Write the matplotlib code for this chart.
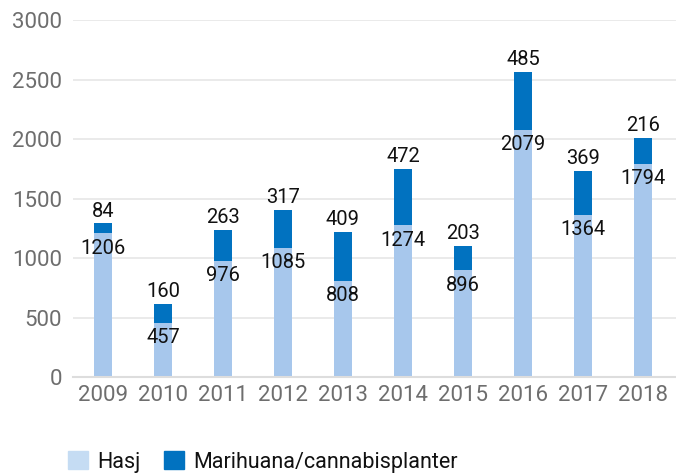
import matplotlib
matplotlib.use("Agg")
import matplotlib.pyplot as plt
from matplotlib.patches import Patch

years = ["2009", "2010", "2011", "2012", "2013", "2014", "2015", "2016", "2017", "2018"]
hasj = [1206, 457, 976, 1085, 808, 1274, 896, 2079, 1364, 1794]
marihuana = [84, 160, 263, 317, 409, 472, 203, 485, 369, 216]
yticks = [0, 500, 1000, 1500, 2000, 2500, 3000]

light = "#A7C7EC"
dark = "#0172C0"

plt.rcParams["font.family"] = ["Roboto", "DejaVu Sans"]

fig = plt.figure(figsize=(6.76, 4.73), dpi=100)
ax = fig.add_axes([73/676, 96/473, 1 - 73/676, (377-20)/473])

x = list(range(len(years)))
w = 0.3
ax.bar(x, hasj, width=w, color=light, zorder=2)
ax.bar(x, marihuana, width=w, bottom=hasj, color=dark, zorder=2)

for i in x:
    ax.annotate(str(hasj[i]), (i, hasj[i]), xytext=(0, -4), textcoords="offset points",
                ha="center", va="top", fontsize=14.5, color="#111111", zorder=3)
    ax.annotate(str(marihuana[i]), (i, hasj[i] + marihuana[i]), xytext=(0, 2),
                textcoords="offset points", ha="center", va="bottom", fontsize=14.5,
                color="#111111", zorder=3)

ax.set_xlim(-0.5, 9.55)
ax.set_ylim(0, 3000)
ax.set_yticks(yticks)
ax.set_xticks(x)
ax.set_xticklabels(years)
ax.tick_params(axis="both", length=0, labelsize=16, labelcolor="#6e6e6e")
ax.tick_params(axis="x", pad=6)
ax.tick_params(axis="y", pad=8)
ax.grid(axis="y", color="#e6e6e6", linewidth=1.2, zorder=0)
for s in ["top", "right", "left"]:
    ax.spines[s].set_visible(False)
ax.spines["bottom"].set_color("#dddddd")
ax.spines["bottom"].set_linewidth(1.5)

handles = [Patch(color="#C5DCF3", label="Hasj"), Patch(color=dark, label="Marihuana/cannabisplanter")]
fig.legend(handles=handles, loc="lower left", bbox_to_anchor=(0.072, -0.04), ncol=2,
           frameon=False, fontsize=15.5, handlelength=0.95, handleheight=0.95,
           handletextpad=0.4, columnspacing=1.1, labelcolor="#111111")

fig.savefig("out.png", dpi=100)
